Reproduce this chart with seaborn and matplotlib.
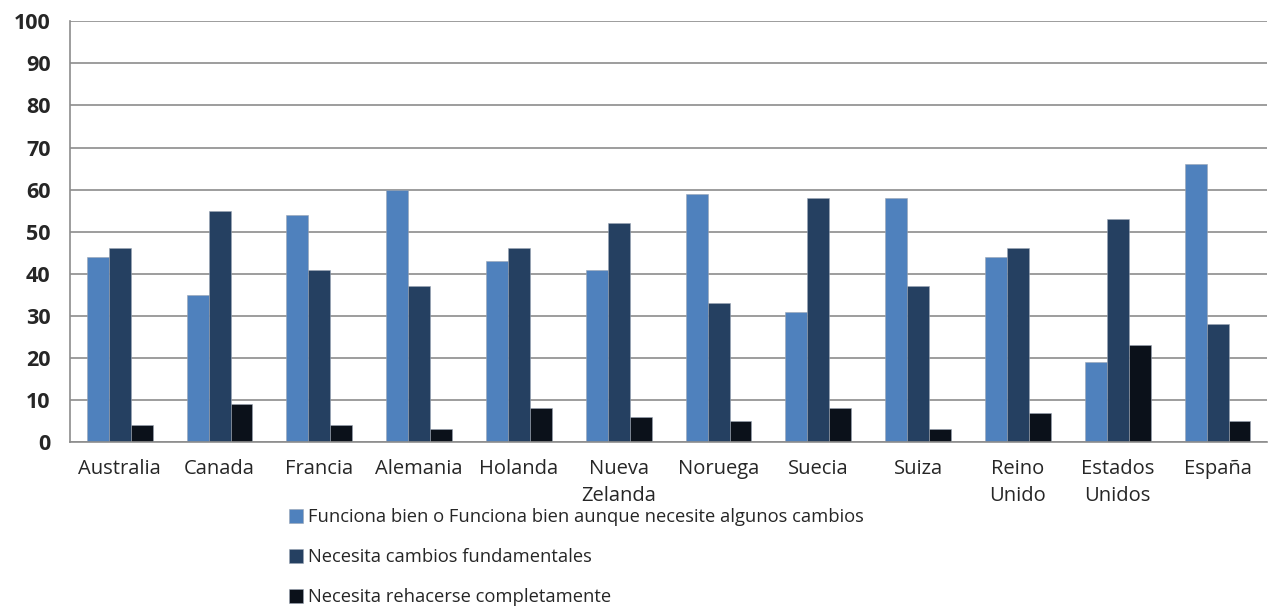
import pandas as pd
import numpy as np
import seaborn as sns
import matplotlib.pyplot as plt

countries = ["Australia", "Canada", "Francia", "Alemania", "Holanda", "Nueva\nZelanda",
             "Noruega", "Suecia", "Suiza", "Reino\nUnido", "Estados\nUnidos", "España"]
funciona_bien = [44, 35, 54, 60, 43, 41, 59, 31, 58, 44, 19, 66]
cambios_fund = [46, 55, 41, 37, 46, 52, 33, 58, 37, 46, 53, 28]
rehacerse = [4, 9, 4, 3, 8, 6, 5, 8, 3, 7, 23, 5]
series = ["Funciona bien o Funciona bien aunque necesite algunos cambios",
          "Necesita cambios fundamentales",
          "Necesita rehacerse completamente"]
colors = ["#4F81BD", "#254061", "#0B111A"]

df = pd.DataFrame({
    "pais": countries * 3,
    "valor": funciona_bien + cambios_fund + rehacerse,
    "serie": [series[0]] * 12 + [series[1]] * 12 + [series[2]] * 12,
})

sns.set_style("white")
plt.rcParams["font.family"] = ["Open Sans", "DejaVu Sans"]

fig = plt.figure(figsize=(12.7, 6.08), dpi=100)
ax = fig.add_axes([0.055, 0.273, 0.943, 0.692])

sns.barplot(data=df, x="pais", y="valor", hue="serie", palette=colors,
            width=0.66, saturation=1, ax=ax, legend=True)
for p in ax.patches:
    p.set_edgecolor("#9aa5b5")
    p.set_linewidth(0.4)

ax.set_ylim(0, 100)
ax.set_xlim(-0.5, 11.5)
ax.set_yticks(range(0, 101, 10))
ax.yaxis.grid(True, color="#8c8c8c", linewidth=1.2)
ax.set_axisbelow(True)
for s in ["top", "right"]:
    ax.spines[s].set_visible(False)
for s in ["left", "bottom"]:
    ax.spines[s].set_color("#8c8c8c")
    ax.spines[s].set_linewidth(1.2)
ax.set_xlabel("")
ax.set_ylabel("")

ax.tick_params(axis="y", labelsize=15.5, length=5, color="#8c8c8c", width=1.2, pad=9)
for lab in ax.get_yticklabels():
    lab.set_fontweight("bold")
ax.tick_params(axis="x", labelsize=14.5, length=0, pad=12)
ax.set_xticks(np.arange(-0.5, 12, 1), minor=True)
ax.tick_params(axis="x", which="minor", length=6, color="#8c8c8c", width=1.2)
for lab in ax.get_xticklabels():
    lab.set_linespacing(1.5)
    lab.set_verticalalignment("top")

ax.legend(loc="upper left", bbox_to_anchor=(0.177, -0.14), frameon=False,
          fontsize=13.2, handlelength=0.75, handleheight=0.75, handletextpad=0.3,
          labelspacing=1.2, borderaxespad=0)

fig.savefig("out.png", dpi=100)
